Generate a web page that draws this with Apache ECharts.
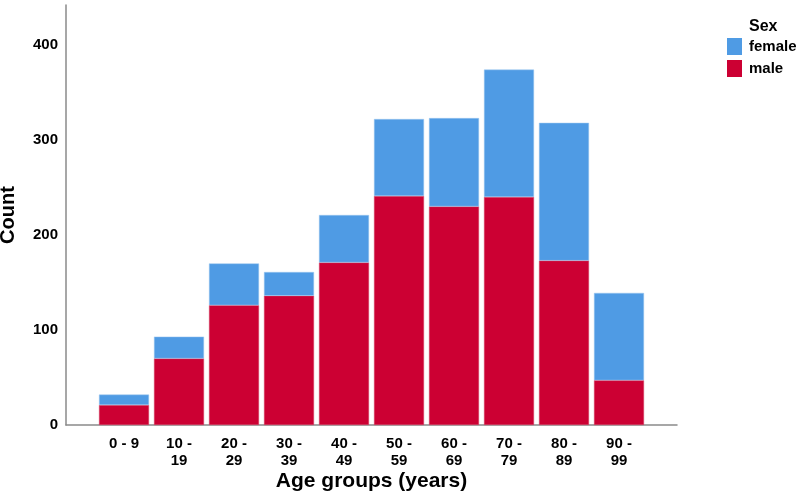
<!DOCTYPE html>
<html>
<head>
<meta charset="utf-8">
<script src="https://cdn.jsdelivr.net/npm/echarts@6/dist/echarts.min.js"></script>
<style>html,body{margin:0;padding:0;background:#fff;}#c{width:800px;height:494px;}</style>
</head>
<body>
<div id="c"></div>
<script>
const categories = ['0 - 9', '10 -\n19', '20 -\n29', '30 -\n39', '40 -\n49', '50 -\n59', '60 -\n69', '70 -\n79', '80 -\n89', '90 -\n99'];
const male = [21, 70, 126, 136, 171, 241, 230, 240, 173, 47];
const female = [11, 23, 44, 25, 50, 81, 93, 134, 145, 92];
const yTicks = [0, 100, 200, 300, 400];

const FONT = 'Liberation Sans, Arial, sans-serif';
const YMAX = 442;
const chart = echarts.init(document.getElementById('c'));
chart.setOption({
  animation: false,
  backgroundColor: '#ffffff',
  title: {
    text: 'Sex', left: 749, top: 19, padding: 0,
    textStyle: { fontFamily: FONT, fontWeight: 'bold', fontSize: 16, color: '#000' }
  },
  legend: {
    data: ['female', 'male'],
    orient: 'vertical', left: 727, top: 38, padding: 0,
    itemWidth: 15, itemHeight: 17, itemGap: 5,
    icon: 'rect',
    itemStyle: { borderWidth: 0 },
    textStyle: { fontFamily: FONT, fontWeight: 'bold', fontSize: 15, color: '#000', padding: [0, 0, 0, 2] }
  },
  grid: [
    { left: 66, right: 123, top: 5, bottom: 69, outerBoundsMode: 'none' },
    { left: 96.5, width: 550, top: 5, bottom: 69, outerBoundsMode: 'none' }
  ],
  xAxis: [
    {
      type: 'value', gridIndex: 0, min: 0, max: 1,
      axisLine: { show: true, lineStyle: { color: '#8a8a8a', width: 1.5 } },
      axisTick: { show: false }, axisLabel: { show: false }, splitLine: { show: false },
      name: 'Age groups (years)', nameLocation: 'middle', nameGap: 46,
      nameTextStyle: { fontFamily: FONT, fontWeight: 'bold', fontSize: 21, color: '#000' }
    },
    {
      type: 'category', gridIndex: 1, data: categories,
      axisLine: { show: false }, axisTick: { show: false },
      axisLabel: { fontFamily: FONT, fontWeight: 'bold', fontSize: 15, color: '#000', margin: 10, lineHeight: 17, interval: 0 }
    }
  ],
  yAxis: [
    {
      type: 'value', gridIndex: 0, min: 0, max: YMAX, interval: 100,
      axisLine: { show: true, lineStyle: { color: '#8a8a8a', width: 1.5 } },
      axisTick: { show: false }, splitLine: { show: false },
      axisLabel: {
        fontFamily: FONT, fontWeight: 'bold', fontSize: 15, color: '#000', margin: 8,
        formatter: v => (yTicks.indexOf(v) >= 0 ? String(v) : '')
      },
      name: 'Count', nameLocation: 'middle', nameGap: 48,
      nameTextStyle: { fontFamily: FONT, fontWeight: 'bold', fontSize: 20, color: '#000' }
    },
    {
      type: 'value', gridIndex: 1, min: 0, max: YMAX, show: false
    }
  ],
  series: [
    {
      name: 'male', type: 'bar', stack: 'sex', xAxisIndex: 1, yAxisIndex: 1,
      data: male, barWidth: 50,
      itemStyle: { color: '#cc0033', borderColor: '#d44a6a', borderWidth: 0.5 }
    },
    {
      name: 'female', type: 'bar', stack: 'sex', xAxisIndex: 1, yAxisIndex: 1,
      data: female, barWidth: 50,
      itemStyle: { color: '#4f9be4', borderColor: '#9cc6ef', borderWidth: 0.5 }
    }
  ]
});
</script>
</body>
</html>
